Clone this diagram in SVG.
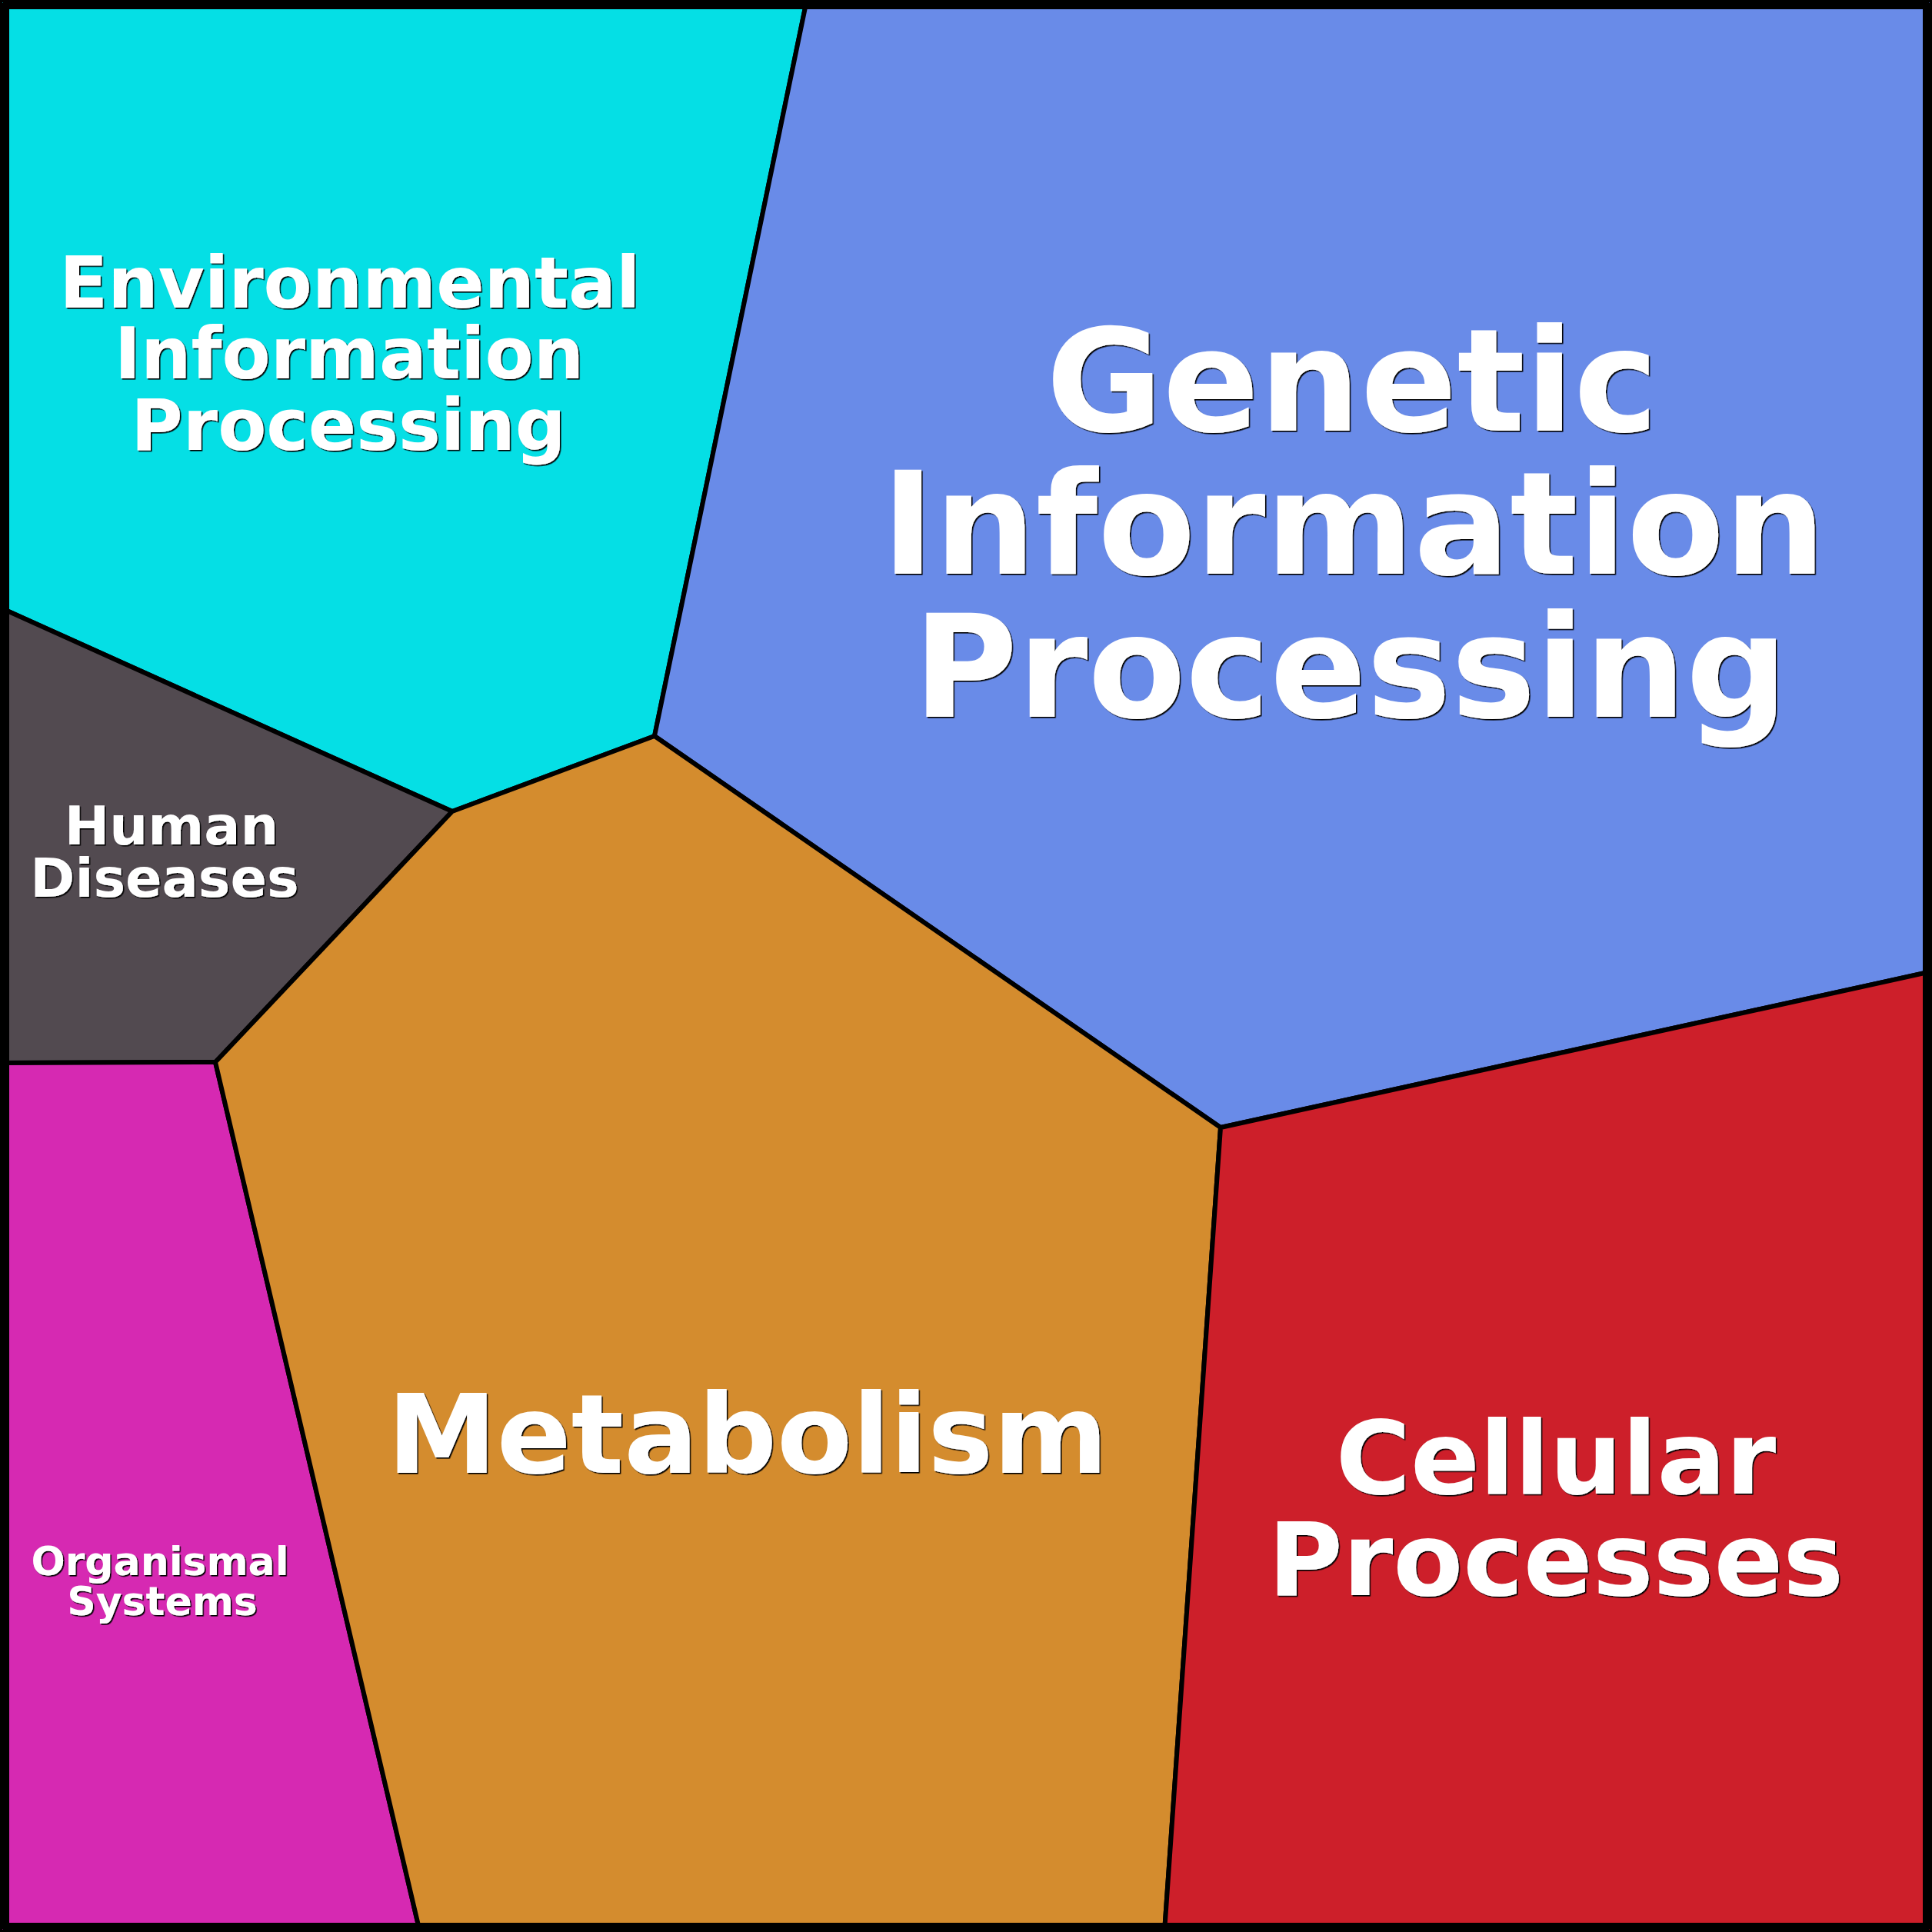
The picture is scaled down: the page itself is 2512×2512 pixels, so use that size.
<svg xmlns="http://www.w3.org/2000/svg" width="2512" height="2512" viewBox="0 0 2512 2512">
<defs>
<filter id="shadow" x="-5%" y="-5%" width="110%" height="110%">
<feDropShadow dx="1.6" dy="1.6" stdDeviation="0.3" flood-color="#000" flood-opacity="1"/>
</filter>
</defs>
<style>
.cell{stroke:#000;stroke-width:6;stroke-linejoin:round}
.lbl{font-family:"DejaVu Sans","Liberation Sans",sans-serif;font-weight:bold;text-anchor:middle;fill:#fff;filter:url(#shadow)}
</style>
<g id="environmental">
<polygon class="cell" fill="#05DFE5" points="0,0 1049,0 851,957 588,1055 0,790"/>
<text class="lbl" font-size="92"><tspan x="455" y="400">Environmental</tspan><tspan x="454" y="492">Information</tspan><tspan x="453" y="585">Processing</tspan></text>
</g>
<g id="genetic">
<polygon class="cell" fill="#698BE8" points="1049,0 2512,0 2512,1263 1587,1466 851,957"/>
<text class="lbl" font-size="185"><tspan x="1758" y="560">Genetic</tspan><tspan x="1760" y="746">Information</tspan><tspan x="1756" y="932">Processing</tspan></text>
</g>
<g id="human">
<polygon class="cell" fill="#524A50" points="0,790 588,1055 280,1381 0,1382"/>
<text class="lbl" font-size="70"><tspan x="223" y="1098">Human</tspan><tspan x="214" y="1166">Diseases</tspan></text>
</g>
<g id="organismal">
<polygon class="cell" fill="#D629B2" points="0,1382 280,1381 546,2512 0,2512"/>
<text class="lbl" font-size="52"><tspan x="208" y="2048">Organismal</tspan><tspan x="211" y="2100">Systems</tspan></text>
</g>
<g id="metabolism">
<polygon class="cell" fill="#D48C2E" points="851,957 1587,1466 1514,2512 546,2512 280,1381 588,1055"/>
<text class="lbl" font-size="143" x="972" y="1915">Metabolism</text>
</g>
<g id="cellular">
<polygon class="cell" fill="#CD1F2A" points="1587,1466 2512,1263 2512,2512 1514,2512"/>
<text class="lbl" font-size="132.5"><tspan x="2023" y="1942">Cellular</tspan><tspan x="2023" y="2074">Processes</tspan></text>
</g>
<g id="connectors">
<rect x="6" y="6" width="2500" height="2500" rx="6" fill="none" stroke="#000" stroke-width="12"/>
</g>
</svg>
